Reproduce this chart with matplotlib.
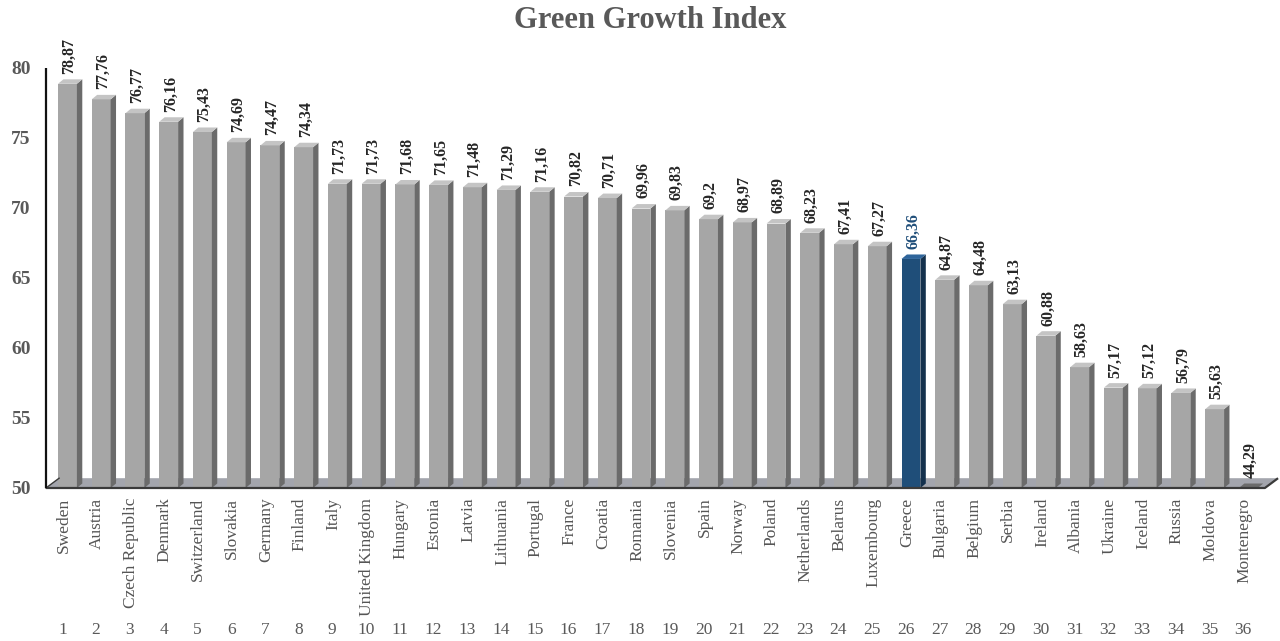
import matplotlib
matplotlib.use("Agg")
import matplotlib.pyplot as plt
from matplotlib.patches import Polygon
import matplotlib.transforms as mtrans
import numpy as np

countries = ["Sweden", "Austria", "Czech Republic", "Denmark", "Switzerland", "Slovakia",
             "Germany", "Finland", "Italy", "United Kingdom", "Hungary", "Estonia", "Latvia",
             "Lithuania", "Portugal", "France", "Croatia", "Romania", "Slovenia", "Spain",
             "Norway", "Poland", "Netherlands", "Belarus", "Luxembourg", "Greece", "Bulgaria",
             "Belgium", "Serbia", "Ireland", "Albania", "Ukraine", "Iceland", "Russia",
             "Moldova", "Montenegro"]
values = [78.87, 77.76, 76.77, 76.16, 75.43, 74.69, 74.47, 74.34, 71.73, 71.73, 71.68,
          71.65, 71.48, 71.29, 71.16, 70.82, 70.71, 69.96, 69.83, 69.2, 68.97, 68.89,
          68.23, 67.41, 67.27, 66.36, 64.87, 64.48, 63.13, 60.88, 58.63, 57.17, 57.12,
          56.79, 55.63, 44.29]
value_labels = ["78,87", "77,76", "76,77", "76,16", "75,43", "74,69", "74,47", "74,34",
                "71,73", "71,73", "71,68", "71,65", "71,48", "71,29", "71,16", "70,82",
                "70,71", "69,96", "69,83", "69,2", "68,97", "68,89", "68,23", "67,41",
                "67,27", "66,36", "64,87", "64,48", "63,13", "60,88", "58,63", "57,17",
                "57,12", "56,79", "55,63", "44,29"]
ranks = list(range(1, 37))
highlight = "Greece"
y_ticks = [50, 55, 60, 65, 70, 75, 80]

serif = ["Liberation Serif", "DejaVu Serif"]
plt.rcParams['font.family'] = serif

fig = plt.figure(figsize=(12.8, 6.41), dpi=100)
ax = fig.add_axes([0.0359, 0.2387, 0.9523, 0.688])
base = 50.0
xl, xr = 0.363, 36.49
ax.set_xlim(xl, xr)
ax.set_ylim(base, 81.5)

x = np.array(ranks, dtype=float)
w = 0.56
dx, dy = 0.16, 0.32      # 3D depth for bars
fdx, fdy = 0.39, 0.70    # 3D depth for floor

# floor
floor = Polygon([(xl, base), (xr, base), (xr + fdx, base + fdy), (xl + fdx, base + fdy)],
                closed=True, facecolor="#a3a5ad", edgecolor="none", zorder=1, clip_on=False)
ax.add_patch(floor)
ax.plot([xl, xr, xr + fdx], [base, base, base + fdy], color="#3a3a3a", lw=1.6,
        zorder=5, clip_on=False, solid_capstyle="butt")
ax.plot([xl, xl + fdx], [base, base + fdy], color="#3a3a3a", lw=1.0, zorder=5, clip_on=False)
# left wall front edge
ax.vlines(xl, base, 80, color="#111111", lw=1.6, zorder=5, clip_on=False)

for xi, v, c, lab in zip(x, values, countries, value_labels):
    hi = (c == highlight)
    front = "#1f4e79" if hi else "#a6a6a6"
    side = "#14314d" if hi else "#6b6b6b"
    top = "#2f659b" if hi else "#c4c4c4"
    top_v = max(v, base)
    ax.bar(xi, top_v - base, bottom=base, width=w, color=front, edgecolor="none", zorder=3)
    l, r = xi - w / 2, xi + w / 2
    ax.add_patch(Polygon([(r, base), (r, top_v), (r + dx, top_v + dy), (r + dx, base + dy)],
                         closed=True, facecolor=side, edgecolor="none", zorder=3))
    tcol = top if v >= base else "#6b6b6b"
    ax.add_patch(Polygon([(l, top_v), (r, top_v), (r + dx, top_v + dy), (l + dx, top_v + dy)],
                         closed=True, facecolor=tcol, edgecolor="none", zorder=3))
    ax.text(xi + 0.06, top_v + dy + 0.4, lab, rotation=90, ha="center", va="bottom",
            fontsize=11.5, fontweight="bold", color="#1f4e79" if hi else "#262626",
            zorder=6, clip_on=False)

ax.set_xticks(x - 0.12)
ax.set_xticklabels(countries, rotation=90, fontsize=12.5, color="#555555")
ax.tick_params(axis="x", length=0, pad=7)
ax.set_yticks(y_ticks)
ax.set_yticklabels([str(t) for t in y_ticks], fontsize=14, fontweight="bold", color="#595959")
ax.tick_params(axis="y", length=0, pad=11)
for s in ax.spines.values():
    s.set_visible(False)

trans = mtrans.blended_transform_factory(ax.transData, ax.transAxes)
for xi, rk in zip(x, ranks):
    ax.text(xi - 0.15, -0.322, str(rk), transform=trans, ha="center", va="center",
            fontsize=12.5, color="#595959")

fig.text(0.508, 0.968, "Green Growth Index", ha="center", va="center",
         fontsize=22, fontweight="bold", color="#595959")

fig.savefig("out.png", dpi=100, facecolor="white")
